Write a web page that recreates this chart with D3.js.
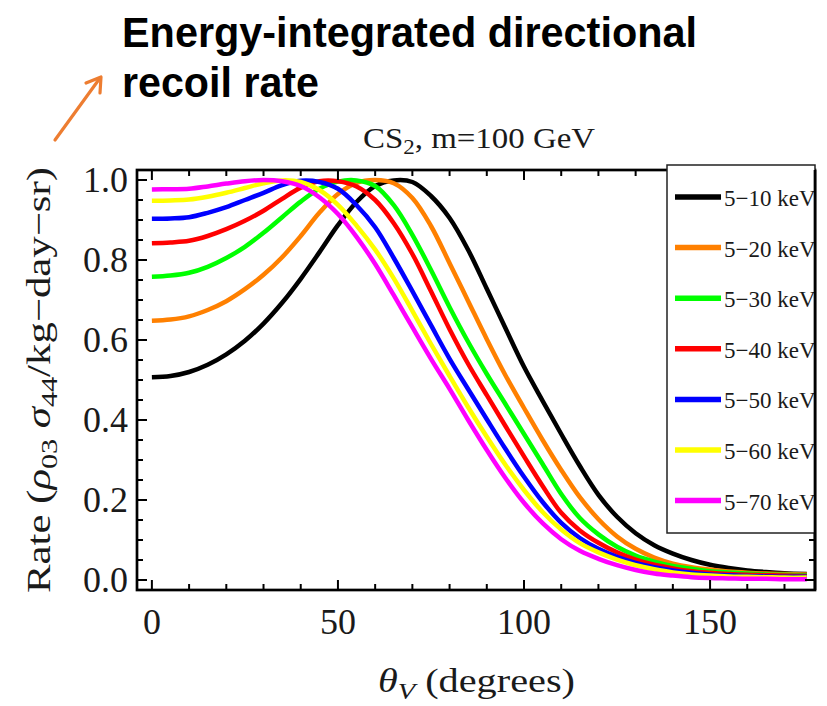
<!DOCTYPE html>
<html>
<head>
<meta charset="utf-8">
<script src="https://cdn.jsdelivr.net/npm/d3@7"></script>
<style>
  html, body { margin: 0; padding: 0; background: #fff; }
  svg { display: block; }
</style>
</head>
<body>
<svg id="chart" width="827" height="706"></svg>
<script>
// ---------------- DATA ----------------
const theta = [0,5,10,15,20,25,30,35,40,45,50,55,60,65,70,75,80,85,90,95,100,105,110,115,120,125,130,135,140,145,150,155,160,165,170,176];

const seriesNames = ["5\u221210 keV","5\u221220 keV","5\u221230 keV","5\u221240 keV","5\u221250 keV","5\u221260 keV","5\u221270 keV"];
const seriesColors = ["#000000","#FF8000","#00FF00","#FF0000","#0000FF","#FFFF00","#FF00FF"];

const rate5to10 = [0.507,0.510,0.520,0.538,0.564,0.598,0.641,0.693,0.753,0.819,0.887,0.945,0.985,0.999,0.995,0.960,0.905,0.825,0.728,0.630,0.533,0.448,0.365,0.285,0.213,0.158,0.117,0.087,0.066,0.050,0.038,0.030,0.024,0.020,0.017,0.015];
const rate5to20 = [0.648,0.651,0.659,0.675,0.697,0.727,0.763,0.807,0.860,0.918,0.965,0.993,1.0,0.992,0.955,0.885,0.792,0.697,0.602,0.512,0.430,0.350,0.275,0.207,0.152,0.109,0.078,0.056,0.041,0.032,0.026,0.021,0.018,0.016,0.015,0.014];
const rate5to30 = [0.758,0.761,0.768,0.783,0.805,0.833,0.868,0.907,0.946,0.978,0.996,0.999,0.985,0.937,0.863,0.775,0.682,0.595,0.515,0.440,0.365,0.290,0.215,0.155,0.114,0.083,0.061,0.046,0.035,0.028,0.022,0.019,0.016,0.014,0.013,0.012];
const rate5to40 = [0.842,0.844,0.848,0.860,0.877,0.898,0.923,0.953,0.981,0.997,0.997,0.984,0.950,0.892,0.815,0.722,0.627,0.540,0.462,0.385,0.309,0.235,0.168,0.124,0.093,0.069,0.051,0.038,0.029,0.022,0.018,0.015,0.013,0.012,0.011,0.010];
const rate5to50 = [0.903,0.904,0.907,0.918,0.932,0.950,0.968,0.987,0.998,0.995,0.978,0.937,0.882,0.805,0.722,0.637,0.553,0.477,0.402,0.328,0.258,0.195,0.143,0.105,0.078,0.058,0.043,0.032,0.024,0.018,0.014,0.012,0.010,0.009,0.008,0.008];
const rate5to60 = [0.948,0.949,0.951,0.958,0.968,0.980,0.992,0.999,0.995,0.975,0.938,0.886,0.826,0.754,0.673,0.590,0.510,0.432,0.358,0.288,0.225,0.170,0.126,0.092,0.069,0.051,0.037,0.027,0.019,0.014,0.011,0.009,0.008,0.007,0.006,0.006];
const rate5to70 = [0.976,0.977,0.978,0.984,0.991,0.997,1.0,0.997,0.985,0.957,0.915,0.858,0.790,0.712,0.632,0.553,0.478,0.400,0.325,0.255,0.193,0.142,0.102,0.073,0.053,0.037,0.025,0.016,0.011,0.007,0.005,0.004,0.003,0.003,0.002,0.002];

const allSeries = [rate5to10, rate5to20, rate5to30, rate5to40, rate5to50, rate5to60, rate5to70];

const yTickLabels = [0.0, 0.2, 0.4, 0.6, 0.8, 1.0];
const xTickLabels = [0, 50, 100, 150];
const yMinorStep = 0.05;
const xMinorStep = 10;

// ---------------- LAYOUT ----------------
const svg = d3.select("#chart");
const L = 137, R = 815, T = 170, B = 590;
const x = d3.scaleLinear().domain([-4, 178.2]).range([L, R]);
const y = d3.scaleLinear().domain([-0.025, 1.025]).range([B, T]);

const serif = "'Liberation Serif', 'Times New Roman', serif";
const headFont = "'Liberation Sans Narrow', 'Liberation Sans', Arial, sans-serif";

// Heading (two lines)
svg.append("text")
  .attr("x", 122).attr("y", 47)
  .attr("font-family", headFont).attr("font-weight", "bold").attr("font-size", 43)
  .attr("textLength", 575).attr("lengthAdjust", "spacingAndGlyphs")
  .text("Energy-integrated directional");
svg.append("text")
  .attr("x", 122).attr("y", 97)
  .attr("font-family", headFont).attr("font-weight", "bold").attr("font-size", 43)
  .attr("textLength", 197).attr("lengthAdjust", "spacingAndGlyphs")
  .text("recoil rate");

// Orange arrow
const arrowColor = "#ED7D31";
svg.append("line").attr("x1", 55).attr("y1", 140).attr("x2", 100).attr("y2", 78)
  .attr("stroke", arrowColor).attr("stroke-width", 3.2).attr("stroke-linecap", "round");
svg.append("path").attr("d", "M86,83 L101,77 L100,93")
  .attr("fill", "none").attr("stroke", arrowColor).attr("stroke-width", 3.2)
  .attr("stroke-linecap", "round").attr("stroke-linejoin", "round");

// Plot title
const title = svg.append("text")
  .attr("x", 363).attr("y", 148)
  .attr("font-family", serif).attr("font-size", 30).attr("fill", "#1a1a1a")
  .attr("textLength", 232).attr("lengthAdjust", "spacingAndGlyphs");
title.append("tspan").text("CS");
title.append("tspan").attr("dy", 6).attr("font-size", 21).text("2");
title.append("tspan").attr("dy", -6).text(", m=100 GeV");

// Clip for curves
svg.append("clipPath").attr("id", "plotclip")
  .append("rect").attr("x", L).attr("y", T).attr("width", R - L).attr("height", B - T);

// Curves
const line = d3.line()
  .x((d, i) => x(theta[i]))
  .y(d => y(d))
  .curve(d3.curveCatmullRom.alpha(0.5));

const curves = svg.append("g").attr("clip-path", "url(#plotclip)");
allSeries.forEach((s, k) => {
  curves.append("path")
    .attr("d", line(s))
    .attr("fill", "none")
    .attr("stroke", seriesColors[k])
    .attr("stroke-width", 4.5)
    .attr("stroke-linejoin", "round");
});

// Ticks (inward, on all four sides)
const ticks = svg.append("g").attr("stroke", "#000").attr("stroke-width", 2);
const yMinor = d3.range(0, 1.0001, yMinorStep);
yMinor.forEach(v => {
  const major = yTickLabels.some(t => Math.abs(t - v) < 1e-6);
  const len = major ? 10 : 6;
  ticks.append("line").attr("x1", L).attr("x2", L + len).attr("y1", y(v)).attr("y2", y(v));
  ticks.append("line").attr("x1", R).attr("x2", R - len).attr("y1", y(v)).attr("y2", y(v));
});
const xMinor = d3.range(0, 171, xMinorStep);
xMinor.forEach(v => {
  const major = xTickLabels.includes(v);
  const len = major ? 10 : 6;
  ticks.append("line").attr("x1", x(v)).attr("x2", x(v)).attr("y1", B).attr("y2", B - len);
  ticks.append("line").attr("x1", x(v)).attr("x2", x(v)).attr("y1", T).attr("y2", T + len);
});

// Frame
svg.append("rect").attr("x", L).attr("y", T).attr("width", R - L).attr("height", B - T)
  .attr("fill", "none").attr("stroke", "#000").attr("stroke-width", 2.7);

// Tick labels
svg.append("g").selectAll("text").data(yTickLabels).join("text")
  .attr("x", 128).attr("y", d => y(d) + 12)
  .attr("text-anchor", "end")
  .attr("font-family", serif).attr("font-size", 36).attr("fill", "#1a1a1a")
  .text(d => d3.format(".1f")(d));
svg.append("g").selectAll("text").data(xTickLabels).join("text")
  .attr("x", d => x(d)).attr("y", 634)
  .attr("text-anchor", "middle")
  .attr("font-family", serif).attr("font-size", 36).attr("fill", "#1a1a1a")
  .text(d => d);

// Axis labels
const xl = svg.append("text")
  .attr("x", 378).attr("y", 692)
  .attr("font-family", serif).attr("font-size", 34).attr("fill", "#1a1a1a")
  .attr("textLength", 197).attr("lengthAdjust", "spacingAndGlyphs");
xl.append("tspan").attr("font-style", "italic").text("\u03B8");
xl.append("tspan").attr("font-style", "italic").attr("font-size", 24).attr("dy", 7).text("V");
xl.append("tspan").attr("dy", -7).text(" (degrees)");

const yl = svg.append("text")
  .attr("transform", "translate(50,380) rotate(-90)")
  .attr("text-anchor", "middle")
  .attr("font-family", serif).attr("font-size", 34).attr("fill", "#1a1a1a")
  .attr("textLength", 426).attr("lengthAdjust", "spacingAndGlyphs");
yl.append("tspan").text("Rate (");
yl.append("tspan").attr("font-style", "italic").text("\u03C1");
yl.append("tspan").attr("font-size", 24).attr("dy", 7).text("03");
yl.append("tspan").attr("dy", -7).text(" ");
yl.append("tspan").attr("font-style", "italic").text("\u03C3");
yl.append("tspan").attr("font-size", 24).attr("dy", 7).text("44");
yl.append("tspan").attr("dy", -7).text("/kg\u2212day\u2212sr)");

// Legend
svg.append("clipPath").attr("id", "legclip")
  .append("rect").attr("x", 667).attr("y", 165).attr("width", 148).attr("height", 368);
const leg = svg.append("g");
leg.append("rect").attr("x", 667).attr("y", 165).attr("width", 148).attr("height", 368)
  .attr("fill", "#fff").attr("stroke", "#222").attr("stroke-width", 1.5);
const legItems = leg.append("g").attr("clip-path", "url(#legclip)");
seriesNames.forEach((name, i) => {
  const yy = 197 + i * 50.6;
  legItems.append("line").attr("x1", 675).attr("x2", 721).attr("y1", yy).attr("y2", yy)
    .attr("stroke", seriesColors[i]).attr("stroke-width", 5.5);
  legItems.append("text").attr("x", 724).attr("y", yy + 9)
    .attr("font-family", serif).attr("font-size", 23).attr("fill", "#1a1a1a")
    .text(name);
});
// Right frame edge redrawn over legend
svg.append("line").attr("x1", R).attr("x2", R).attr("y1", T).attr("y2", B)
  .attr("stroke", "#000").attr("stroke-width", 2.7);
</script>
</body>
</html>
